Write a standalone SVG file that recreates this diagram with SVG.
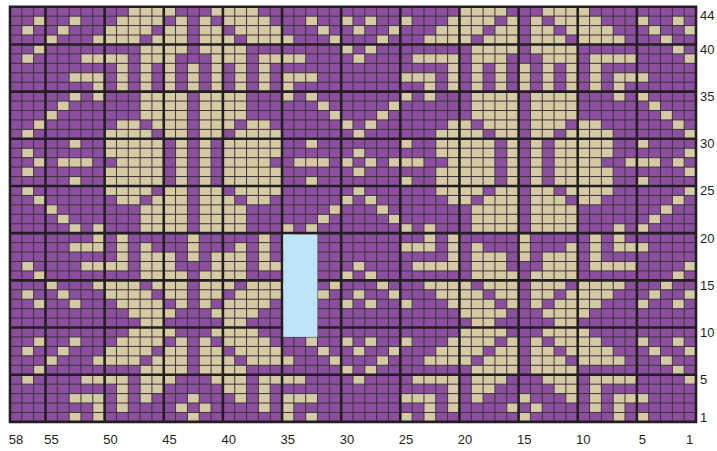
<svg xmlns="http://www.w3.org/2000/svg" width="717" height="451" viewBox="0 0 717 451">
<style>
.t{fill:#d6caa4}
.lbl{font-family:"Liberation Sans Narrow","Liberation Sans",sans-serif;font-size:13px;fill:#231f20}
.thin{fill:none;stroke:#3a3338;stroke-width:1;vector-effect:non-scaling-stroke}
.thick{fill:none;stroke:#231f20;stroke-width:2.6;vector-effect:non-scaling-stroke}
</style>
<defs>
<clipPath id="gc"><rect x="1" y="0" width="57" height="44"/></clipPath>
<path id="D" class="t" d="M17 0h4v1h-4z
M16 1h1v1h-1zM18 1h4v1h-4zM25 1h1v1h-1zM28 1h1v1h-1z
M16 2h2v1h-2zM19 2h4v1h-4zM26 2h1v1h-1zM29 2h1v1h-1z
M16 3h3v1h-3zM20 3h4v1h-4zM27 3h1v1h-1z
M16 4h4v1h-4zM28 4h1v1h-1z
M17 5h3v1h-3zM21 5h4v1h-4zM29 5h1v1h-1z
M15 6h1v1h-1zM17 6h1v1h-1zM19 6h1v1h-1zM21 6h1v1h-1z
M15 7h1v1h-1zM17 7h1v1h-1zM19 7h1v1h-1zM21 7h1v1h-1zM23 7h3v1h-3z
M15 8h1v1h-1zM17 8h1v1h-1zM19 8h1v1h-1zM21 8h1v1h-1zM23 8h1v1h-1z
M16 9h4v1h-4zM23 9h1v1h-1zM25 9h1v1h-1z
M16 10h4v1h-4zM26 10h1v1h-1z
M16 11h4v1h-4zM27 11h1v1h-1z
M16 12h3v1h-3zM20 12h2v1h-2zM28 12h1v1h-1z
M16 13h2v1h-2zM19 13h4v1h-4zM29 13h1v1h-1z
M16 14h1v1h-1zM18 14h5v1h-5zM25 14h1v1h-1z
M16 15h1v1h-1zM18 15h5v1h-5zM29 15h1v1h-1z
M16 16h1v1h-1zM18 16h4v1h-4zM24 16h3v1h-3zM28 16h1v1h-1z
M16 17h1v1h-1zM18 17h5v1h-5zM29 17h1v1h-1z
M16 18h1v1h-1zM18 18h5v1h-5zM25 18h1v1h-1z
M16 19h2v1h-2zM19 19h4v1h-4zM29 19h1v1h-1z
M16 20h3v1h-3zM20 20h2v1h-2zM28 20h1v1h-1z
M16 21h4v1h-4zM27 21h1v1h-1z
M16 22h4v1h-4zM26 22h1v1h-1z
M16 23h4v1h-4zM23 23h1v1h-1zM25 23h1v1h-1z
M15 24h1v1h-1zM21 24h1v1h-1zM23 24h1v1h-1z
M15 25h1v1h-1zM19 25h1v1h-1zM21 25h1v1h-1zM23 25h3v1h-3z
M15 26h1v1h-1zM17 26h3v1h-3zM21 26h1v1h-1z
M17 27h3v1h-3zM21 27h4v1h-4zM29 27h1v1h-1z
M16 28h4v1h-4zM28 28h1v1h-1z
M16 29h3v1h-3zM20 29h4v1h-4zM27 29h1v1h-1z
M16 30h2v1h-2zM19 30h4v1h-4zM26 30h1v1h-1zM29 30h1v1h-1z
M16 31h1v1h-1zM18 31h4v1h-4zM25 31h1v1h-1zM28 31h1v1h-1z
M17 32h4v1h-4z
M18 33h2v1h-2z
M17 34h4v1h-4z
M16 35h1v1h-1zM18 35h4v1h-4zM25 35h1v1h-1zM28 35h1v1h-1z
M16 36h2v1h-2zM19 36h4v1h-4zM26 36h1v1h-1zM29 36h1v1h-1z
M16 37h3v1h-3zM20 37h4v1h-4zM27 37h1v1h-1z
M16 38h4v1h-4zM28 38h1v1h-1z
M17 39h3v1h-3zM21 39h4v1h-4zM29 39h1v1h-1z
M18 40h2v1h-2zM21 40h1v1h-1z
M15 41h1v1h-1zM19 41h1v1h-1zM21 41h1v1h-1zM23 41h3v1h-3z
M16 42h1v1h-1zM21 42h1v1h-1zM23 42h1v1h-1z
M15 43h1v1h-1zM23 43h1v1h-1zM25 43h1v1h-1z"/>
</defs>
<rect x="10" y="6.7" width="686" height="415.2" fill="#8c4f9f"/>
<g id="cells" transform="translate(10 6.7) scale(11.8276 9.4364)">
<g clip-path="url(#gc)">
<use href="#D"/>
<use href="#D" transform="matrix(-1 0 0 1 59 0)"/>
<use href="#D" transform="matrix(-1 0 0 1 31 0)"/>
<use href="#D" transform="translate(28 0)"/>
</g>
<path class="thin" d="M1 0V44M2 0V44M3 0V44M4 0V44M5 0V44M6 0V44M7 0V44M8 0V44M9 0V44M10 0V44M11 0V44M12 0V44M13 0V44M14 0V44M15 0V44M16 0V44M17 0V44M18 0V44M19 0V44M20 0V44M21 0V44M22 0V44M23 0V44M24 0V44M25 0V44M26 0V44M27 0V44M28 0V44M29 0V44M30 0V44M31 0V44M32 0V44M33 0V44M34 0V44M35 0V44M36 0V44M37 0V44M38 0V44M39 0V44M40 0V44M41 0V44M42 0V44M43 0V44M44 0V44M45 0V44M46 0V44M47 0V44M48 0V44M49 0V44M50 0V44M51 0V44M52 0V44M53 0V44M54 0V44M55 0V44M56 0V44M57 0V44M0 1H58M0 2H58M0 3H58M0 4H58M0 5H58M0 6H58M0 7H58M0 8H58M0 9H58M0 10H58M0 11H58M0 12H58M0 13H58M0 14H58M0 15H58M0 16H58M0 17H58M0 18H58M0 19H58M0 20H58M0 21H58M0 22H58M0 23H58M0 24H58M0 25H58M0 26H58M0 27H58M0 28H58M0 29H58M0 30H58M0 31H58M0 32H58M0 33H58M0 34H58M0 35H58M0 36H58M0 37H58M0 38H58M0 39H58M0 40H58M0 41H58M0 42H58M0 43H58"/>
<path class="thick" d="M3 0V44M8 0V44M13 0V44M18 0V44M23 0V44M28 0V44M33 0V44M38 0V44M43 0V44M48 0V44M53 0V44M0 4H58M0 9H58M0 14H58M0 19H58M0 24H58M0 29H58M0 34H58M0 39H58M0 0H58V44H0Z"/>
</g>
<rect id="blue" x="283.3" y="234.5" width="34.2" height="102.4" fill="#bde4f7"/>
<g id="rowlabels" class="lbl">
<text x="700" y="19.5">44</text>
<text x="700" y="54">40</text>
<text x="700" y="101">35</text>
<text x="700" y="148">30</text>
<text x="700" y="195.3">25</text>
<text x="700" y="242.5">20</text>
<text x="700" y="289.8">15</text>
<text x="700" y="337">10</text>
<text x="700" y="384.2">5</text>
<text x="700" y="421.7">1</text>
</g>
<g id="collabels" class="lbl" text-anchor="middle">
<text x="15.9" y="444">58</text>
<text x="51.4" y="444">55</text>
<text x="110.5" y="444">50</text>
<text x="169.6" y="444">45</text>
<text x="228.7" y="444">40</text>
<text x="287.8" y="444">35</text>
<text x="346.9" y="444">30</text>
<text x="406" y="444">25</text>
<text x="465.1" y="444">20</text>
<text x="524.2" y="444">15</text>
<text x="583.3" y="444">10</text>
<text x="642.4" y="444">5</text>
<text x="689.7" y="444">1</text>
</g>
</svg>
